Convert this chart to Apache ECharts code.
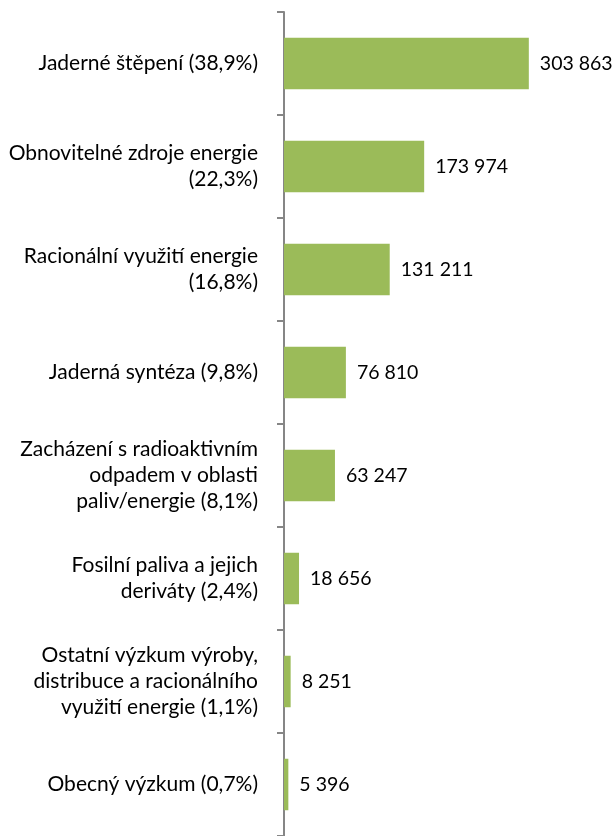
<!DOCTYPE html>
<html><head><meta charset="utf-8">
<script src="https://cdn.jsdelivr.net/npm/echarts@6/dist/echarts.min.js"></script>
<style>html,body{margin:0;padding:0;background:#fff}#c{width:615px;height:836px}</style>
</head><body><div id="c"></div>
<script>
const categories = [
  "Jaderné štěpení (38,9%)",
  "Obnovitelné zdroje energie\n(22,3%)",
  "Racionální využití energie\n(16,8%)",
  "Jaderná syntéza (9,8%)",
  "Zacházení s radioaktivním\nodpadem v oblasti\npaliv/energie (8,1%)",
  "Fosilní paliva a jejich\nderiváty (2,4%)",
  "Ostatní výzkum výroby,\ndistribuce a racionálního\nvyužití energie (1,1%)",
  "Obecný výzkum (0,7%)"
];
const values = [303863, 173974, 131211, 76810, 63247, 18656, 8251, 5396];

const FONT = 'Lato';
const chart = echarts.init(document.getElementById('c'), null, {renderer: 'canvas'});
chart.setOption({
  animation: false,
  grid: {left: 284, right: 49, top: 12, bottom: -2, containLabel: false},
  xAxis: {type: 'value', min: 0, max: 350000, show: false},
  yAxis: {
    type: 'category', data: categories, inverse: true,
    axisLine: {show: true, lineStyle: {color: '#868686', width: 2}},
    axisTick: {show: true, length: 7, lineStyle: {color: '#868686', width: 2}},
    axisLabel: {fontFamily: FONT, fontSize: 21, color: '#000', lineHeight: 26, margin: 26, align: 'right'}
  },
  series: [{
    type: 'bar', data: values, barWidth: '50%',
    itemStyle: {color: '#9BBB59'},
    label: {show: true, position: 'right', distance: 11, fontFamily: FONT, fontSize: 19.5, color: '#000',
      formatter: p => String(p.value).replace(/\B(?=(\d{3})+(?!\d))/g, ' ')}
  }]
});
</script></body></html>
